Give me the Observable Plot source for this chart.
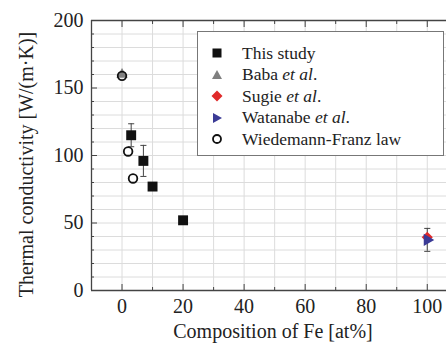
<!DOCTYPE html>
<html>
<head>
<meta charset="utf-8">
<script src="https://cdn.jsdelivr.net/npm/d3@7"></script>
<script src="https://cdn.jsdelivr.net/npm/@observablehq/plot@0.6"></script>
<style>
  body { margin: 0; background: #fff; }
  #wrap { position: relative; width: 446px; height: 345px; overflow: hidden; font-family: "Liberation Serif", "DejaVu Serif", serif; }
  #legend { position: absolute; left: 197px; top: 31px; width: 247px; height: 125px; border: 1px solid #777; background: #fff; box-sizing: border-box; }
  .row { position: absolute; left: 0; height: 20px; display: flex; align-items: center; font-size: 17.5px; color: #222; white-space: nowrap; font-family: "Liberation Serif", serif; }
  .row svg { margin-left: 13px; margin-right: 19px; }
</style>
</head>
<body>
<div id="wrap"></div>
<script>
// ---- data ----
const studyX = [3, 7, 10, 20];
const studyY = [115, 96, 77, 52];
const studyErr = [8.5, 11.5, 0, 0];
const babaX = [0];
const babaY = [160];
const sugieX = [100];
const sugieY = [39.5];
const watanabeX = [100];
const watanabeY = [37.5];
const watanabeErr = [8.5];
const wfX = [0, 2, 3.6];
const wfY = [159, 103, 83];

const xMajor = [0, 20, 40, 60, 80, 100];
const xMinor = [10, 30, 50, 70, 90, 110];
const yMajor = [0, 50, 100, 150, 200];
const yMinor = [10, 20, 30, 40, 60, 70, 80, 90, 110, 120, 130, 140, 160, 170, 180, 190];
const xGrid = [0, 10, 20, 30, 40, 50, 60, 70, 80, 90, 100];
const yGrid = [10, 20, 30, 40, 50, 60, 70, 80, 90, 100, 110, 120, 130, 140, 150, 160, 170, 180, 190];

const legendItems = [
  {label: "This study", italic: null, symbol: "square", color: "#111"},
  {label: "Baba ", italic: "et al", symbol: "triangle", color: "#808080"},
  {label: "Sugie ", italic: "et al", symbol: "diamond", color: "#e02a2a"},
  {label: "Watanabe ", italic: "et al", symbol: "right", color: "#3b3b96"},
  {label: "Wiedemann-Franz law", italic: null, symbol: "circle", color: "#111"}
];

// ---- tables ----
const study = studyX.map((x, i) => ({x, y: studyY[i], e: studyErr[i]}));
const studyE = study.filter(d => d.e > 0);
const baba = babaX.map((x, i) => ({x, y: babaY[i]}));
const sugie = sugieX.map((x, i) => ({x, y: sugieY[i]}));
const wata = watanabeX.map((x, i) => ({x, y: watanabeY[i], e: watanabeErr[i]}));
const wf = wfX.map((x, i) => ({x, y: wfY[i]}));
const errs = [...studyE, ...wata];

const axisColor = "#444";
const font = "Liberation Serif, serif";

const chart = Plot.plot({
  width: 446,
  height: 345,
  marginLeft: 91,
  marginRight: 0,
  marginTop: 20,
  marginBottom: 55,
  style: {fontFamily: font, background: "transparent", color: "#222"},
  x: {domain: [-10, 106.3]},
  y: {domain: [0, 200]},
  marks: [
    Plot.gridX(xGrid, {stroke: "#dcdcdc", strokeOpacity: 1}),
    Plot.gridY(yGrid, {stroke: "#dcdcdc", strokeOpacity: 1}),
    Plot.axisX(xMajor, {anchor: "bottom", tickSize: -6, text: null, label: null, stroke: axisColor}),
    Plot.axisX(xMinor, {anchor: "bottom", tickSize: -3, text: null, label: null, stroke: axisColor}),
    Plot.axisX(xMajor, {anchor: "top", tickSize: -6, text: null, label: null, stroke: axisColor}),
    Plot.axisX(xMinor, {anchor: "top", tickSize: -3, text: null, label: null, stroke: axisColor}),
    Plot.axisY(yMajor, {anchor: "left", tickSize: -6, text: null, label: null, stroke: axisColor}),
    Plot.axisY(yMinor, {anchor: "left", tickSize: -3, text: null, label: null, stroke: axisColor}),
    Plot.axisX(xMajor, {anchor: "bottom", tickSize: 0, tickPadding: 8, fontSize: 20, fontFamily: font, label: null, fill: "#222"}),
    Plot.axisY(yMajor, {anchor: "left", tickSize: 0, tickPadding: 8, fontSize: 20, fontFamily: font, label: null, fill: "#222"}),
    Plot.ruleY([0], {stroke: axisColor, strokeWidth: 1.3}),
    Plot.ruleY([200], {stroke: axisColor, strokeWidth: 1.3}),
    Plot.ruleX([-10], {stroke: axisColor, strokeWidth: 1.3}),
    // error bars
    Plot.ruleX(errs, {x: "x", y1: d => d.y - d.e, y2: d => d.y + d.e, stroke: "#444", strokeWidth: 1}),
    Plot.link(errs, {x1: d => d.x - 1, x2: d => d.x + 1, y1: d => d.y + d.e, y2: d => d.y + d.e, stroke: "#444", strokeWidth: 1}),
    Plot.link(errs, {x1: d => d.x - 1, x2: d => d.x + 1, y1: d => d.y - d.e, y2: d => d.y - d.e, stroke: "#444", strokeWidth: 1}),
    // series
    Plot.dot(baba, {x: "x", y: "y", symbol: "triangle", r: 4.2, fill: "#808080", stroke: "none"}),
    Plot.dot(wf, {x: "x", y: "y", symbol: "circle", r: 4.3, fill: "none", stroke: "#111", strokeWidth: 1.8}),
    Plot.dot(study, {x: "x", y: "y", symbol: "square", r: 5.6, fill: "#111", stroke: "none"}),
    Plot.dot(sugie, {x: "x", y: "y", symbol: "diamond2", r: 5, fill: "#e02a2a", stroke: "none"}),
    Plot.dot(wata, {x: "x", y: "y", symbol: "triangle", rotate: 90, r: 4.5, fill: "#3b3b96", stroke: "none"}),
    // axis titles
    Plot.text(["Composition of Fe [at%]"], {frameAnchor: "bottom", textAnchor: "middle", dy: 41, dx: 4, lineAnchor: "middle", fontSize: 20, fontFamily: font, fill: "#222"}),
    Plot.text(["Thermal conductivity [W/(m\u00B7K)]"], {frameAnchor: "left", textAnchor: "middle", dx: -65, dy: 9, rotate: -90, lineAnchor: "middle", fontSize: 20, fontFamily: font, fill: "#222"})
  ]
});

const wrap = document.getElementById("wrap");
wrap.appendChild(chart);

// legend
const legend = document.createElement("div");
legend.id = "legend";
const rowTops = [11, 32.5, 54, 75.5, 97];
function markerSvg(item) {
  const s = `<svg width="12" height="12" viewBox="-6 -6 12 12">`;
  let shape = "";
  if (item.symbol === "square") shape = `<rect x="-4.5" y="-4.5" width="9" height="9" fill="${item.color}"/>`;
  if (item.symbol === "triangle") shape = `<path d="M0,-5L5,4L-5,4Z" fill="${item.color}"/>`;
  if (item.symbol === "diamond") shape = `<path d="M0,-5.5L5.5,0L0,5.5L-5.5,0Z" fill="${item.color}"/>`;
  if (item.symbol === "right") shape = `<path d="M-4,-5L5,0L-4,5Z" fill="${item.color}"/>`;
  if (item.symbol === "circle") shape = `<circle r="4" fill="none" stroke="${item.color}" stroke-width="1.8"/>`;
  return s + shape + `</svg>`;
}
legendItems.forEach((item, i) => {
  const row = document.createElement("div");
  row.className = "row";
  row.style.top = rowTops[i] + "px";
  let txt = item.label;
  if (item.italic) txt += `<i>${item.italic}</i>.`;
  row.innerHTML = markerSvg(item) + `<span>${txt}</span>`;
  legend.appendChild(row);
});
wrap.appendChild(legend);
</script>
</body>
</html>
